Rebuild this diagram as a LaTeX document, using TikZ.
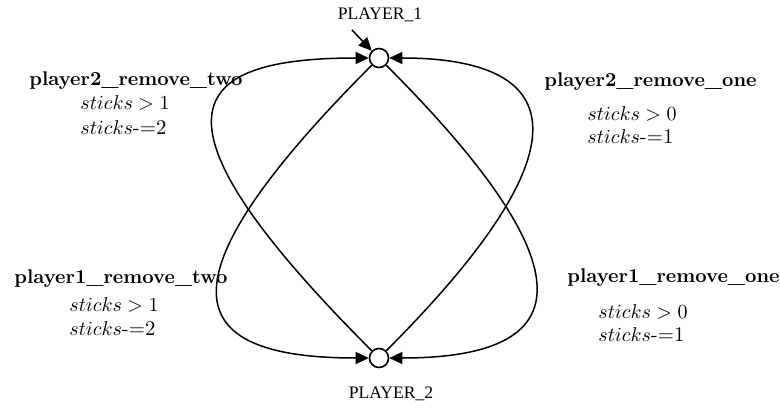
\documentclass[tikz,border=0pt]{standalone}
\usepackage{fontspec}
\newfontfamily\statefont{Liberation Serif}
\usetikzlibrary{arrows.meta}
\begin{document}
\begin{tikzpicture}[x=0.5pt,y=0.5pt,
  state/.style={circle,draw,line width=0.8pt,fill=white,minimum size=9.5pt,inner sep=0pt},
  edge/.style={line width=0.75pt,-{Triangle[length=6.5pt,width=6pt]}},
  statename/.style={inner sep=0pt,anchor=base,font=\statefont\fontsize{8.8}{10}\selectfont},
  transname/.style={inner sep=0pt,anchor=base west,font=\fontsize{9.9}{12}\selectfont\bfseries},
  cond/.style={inner sep=0pt,anchor=base west,font=\fontsize{10.4}{12.5}\selectfont}]
\useasboundingbox (0,0) rectangle (780,407);

% locations
\node[state] (p1) at (379,349) {};
\node[state] (p2) at (379,49) {};
\node[statename] (n1) at (380,387) {PLAYER\_1};
\node[statename] (n2) at (391,9) {PLAYER\_2};

% initial marker
\coordinate (init) at (352,377);
\draw[edge] (init) -- (p1.135);

% transitions
\draw[edge] (p2.135) .. controls +(135:328) and +(180:187) .. (p1.180);
\draw[edge] (p1.225) .. controls +(225:318) and +(180:181) .. (p2.180);
\draw[edge] (p2.45) .. controls +(45:300) and +(0:170) .. (p1.0);
\draw[edge] (p1.-45) .. controls +(-45:308) and +(0:176) .. (p2.0);

% transition labels
\node[transname] (t1) at (29,321) {player2\_remove\_two};
\node[cond] (g1) at (80,297) {$sticks > 1$};
\node[cond] (u1) at (80,272) {$sticks$-=2};

\node[transname] (t2) at (544,320.5) {player2\_remove\_one};
\node[cond] (g2) at (587,286.5) {$sticks > 0$};
\node[cond] (u2) at (587,263.5) {$sticks$-=1};

\node[transname] (t3) at (14,124) {player1\_remove\_two};
\node[cond] (g3) at (69,96) {$sticks > 1$};
\node[cond] (u3) at (69,72) {$sticks$-=2};

\node[transname] (t4) at (567,124.5) {player1\_remove\_one};
\node[cond] (g4) at (598,89) {$sticks > 0$};
\node[cond] (u4) at (598,66) {$sticks$-=1};
\end{tikzpicture}
\end{document}
